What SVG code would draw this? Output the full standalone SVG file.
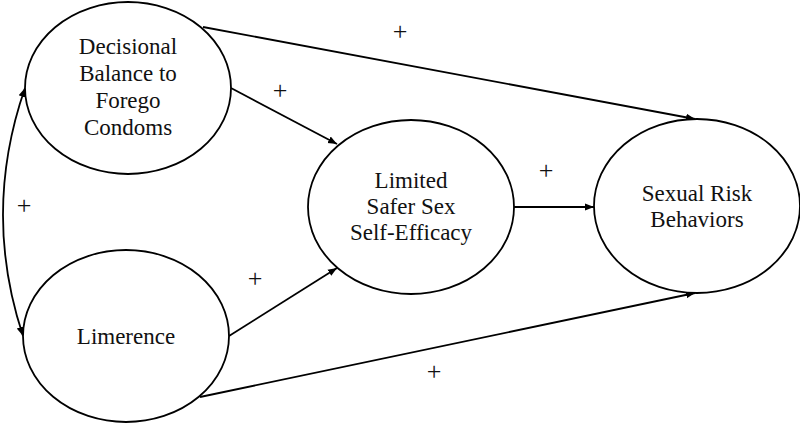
<svg xmlns="http://www.w3.org/2000/svg" width="800" height="423" viewBox="0 0 800 423">
<style>
.node ellipse{fill:#fff;stroke:#000;stroke-width:1.8}
.node text{font-family:"Liberation Serif","Times New Roman",serif;font-size:23px;fill:#111;text-anchor:middle}
.lbl{font-family:"Liberation Serif","Times New Roman",serif;font-size:26px;fill:#111;text-anchor:middle}
#connectors path{fill:none;stroke:#000;stroke-width:1.8}
</style>
<defs>
<marker id="ah" viewBox="0 0 10 10" refX="10" refY="5" markerWidth="5" markerHeight="5" orient="auto-start-reverse" markerUnits="strokeWidth">
<path d="M0,1 L10,5 L0,9 z" fill="#000"/>
</marker>
</defs>
<rect width="800" height="423" fill="#fff"/>
<g id="connectors">
<path d="M203,27 L695,119" marker-end="url(#ah)"/>
<path d="M231,88 L337,144" marker-end="url(#ah)"/>
<path d="M229,336 L337,268" marker-end="url(#ah)"/>
<path d="M200,397 L695,293" marker-end="url(#ah)"/>
<path d="M513,207 L594,207" marker-end="url(#ah)"/>
<path d="M25,88 Q-18,212 23,336" marker-start="url(#ah)" marker-end="url(#ah)"/>
</g>
<g id="labels">
<text class="lbl" x="400" y="40">+</text>
<text class="lbl" x="280" y="99">+</text>
<text class="lbl" x="24" y="214">+</text>
<text class="lbl" x="255" y="287">+</text>
<text class="lbl" x="546" y="179">+</text>
<text class="lbl" x="434" y="380">+</text>
</g>
<g id="decisional" class="node">
<ellipse cx="128" cy="88" rx="103" ry="86"/>
<text x="128" y="54">Decisional</text>
<text x="128" y="81">Balance to</text>
<text x="128" y="108">Forego</text>
<text x="128" y="135">Condoms</text>
</g>
<g id="limerence" class="node">
<ellipse cx="126" cy="336" rx="103" ry="86"/>
<text x="126" y="344">Limerence</text>
</g>
<g id="selfefficacy" class="node">
<ellipse cx="411" cy="207" rx="103" ry="87"/>
<text x="411" y="188">Limited</text>
<text x="411" y="214">Safer Sex</text>
<text x="411" y="240">Self-Efficacy</text>
</g>
<g id="risk" class="node">
<ellipse cx="697" cy="206" rx="103" ry="87"/>
<text x="697" y="201">Sexual Risk</text>
<text x="697" y="227">Behaviors</text>
</g>
</svg>
